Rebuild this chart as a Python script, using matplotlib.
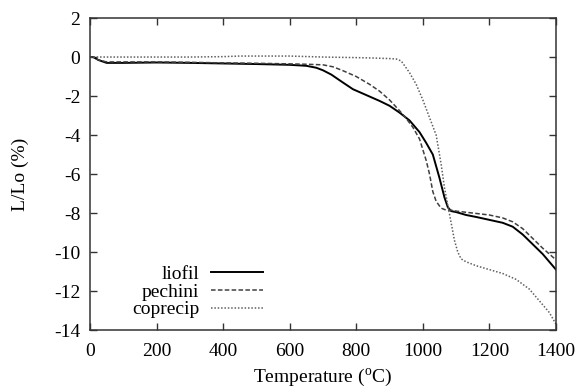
import matplotlib
matplotlib.use("Agg")
import matplotlib.pyplot as plt

plt.rcParams["font.family"] = ["Liberation Serif", "DejaVu Serif"]
plt.rcParams["mathtext.fontset"] = "custom"
plt.rcParams["mathtext.rm"] = "Liberation Serif"
plt.rcParams["axes.unicode_minus"] = False

# liofil (solid)
t_liofil = [0, 10, 25, 50, 100, 200, 300, 400, 500, 600, 650, 680, 700, 725, 755,
            790, 830, 870, 900, 930, 960, 990, 1010, 1030, 1050, 1065, 1075, 1085,
            1100, 1130, 1160, 1200, 1240, 1270, 1300, 1330, 1360, 1400]
l_liofil = [0, 0, -0.15, -0.3, -0.3, -0.28, -0.3, -0.33, -0.36, -0.4, -0.45, -0.55,
            -0.68, -0.9, -1.25, -1.65, -1.95, -2.25, -2.5, -2.85, -3.25, -3.85, -4.4,
            -5.0, -6.2, -7.2, -7.7, -7.9, -7.95, -8.1, -8.2, -8.35, -8.5, -8.7, -9.1,
            -9.6, -10.1, -10.9]

# pechini (dashed)
t_pechini = [0, 10, 25, 50, 100, 200, 300, 400, 500, 600, 650, 700, 730, 760, 800,
             840, 870, 900, 930, 950, 970, 990, 1010, 1020, 1030, 1040, 1055, 1070,
             1085, 1100, 1150, 1200, 1240, 1270, 1300, 1330, 1360, 1400]
l_pechini = [0, 0, -0.15, -0.25, -0.25, -0.25, -0.27, -0.3, -0.32, -0.35, -0.37,
             -0.4, -0.5, -0.7, -1.0, -1.4, -1.75, -2.2, -2.75, -3.15, -3.6, -4.2,
             -5.3, -6.0, -6.9, -7.4, -7.75, -7.85, -7.85, -7.9, -8.0, -8.1, -8.25,
             -8.45, -8.8, -9.3, -9.8, -10.4]

# coprecip (dotted)
t_coprecip = [0, 100, 200, 300, 400, 450, 500, 600, 700, 800, 850, 900, 920, 935,
              960, 980, 1000, 1020, 1040, 1055, 1065, 1075, 1085, 1095, 1105, 1115,
              1130, 1160, 1200, 1240, 1280, 1320, 1350, 1380, 1400]
l_coprecip = [0, 0, 0, 0, 0.02, 0.05, 0.05, 0.05, 0, -0.03, -0.05, -0.08, -0.1,
              -0.2, -0.8, -1.4, -2.2, -3.1, -4.0, -5.5, -6.7, -7.6, -8.5, -9.4,
              -10.0, -10.35, -10.5, -10.7, -10.9, -11.1, -11.4, -11.9, -12.5, -13.1,
              -13.7]

fig = plt.figure(figsize=(5.82, 3.92), dpi=100)
ax = fig.add_axes([0.1546, 0.158, 0.8007, 0.796])

ax.plot(t_liofil, l_liofil, color="black", lw=1.4, label="liofil")
ax.plot(t_pechini, l_pechini, color="#404040", lw=1.1, ls=(0, (3, 1.5)), label="pechini")
ax.plot(t_coprecip, l_coprecip, color="#606060", lw=1.1, ls=(0, (1, 1.2)), label="coprecip")

ax.set_xlim(0, 1400)
ax.set_ylim(-14, 2)
ax.set_xticks(range(0, 1401, 200))
ax.set_yticks(range(-14, 3, 2))
ax.tick_params(direction="in", top=True, right=True, length=5, width=1,
               labelsize=14, color="#333333", pad=7)
ax.tick_params(axis="x", pad=9)
for s in ax.spines.values():
    s.set_color("#333333")
    s.set_linewidth(1.1)

ax.set_xlabel("Temperature ($^{\\rm o}$C)", fontsize=14, labelpad=5)
ax.set_ylabel("L/Lo (%)", fontsize=14, labelpad=18)

ax.legend(loc="lower left", bbox_to_anchor=(0.065, 0.0), frameon=False,
          markerfirst=False, fontsize=14, handlelength=2.7, handletextpad=0.6,
          labelspacing=0.0, borderaxespad=0.2)

fig.savefig("out.png", dpi=100)
